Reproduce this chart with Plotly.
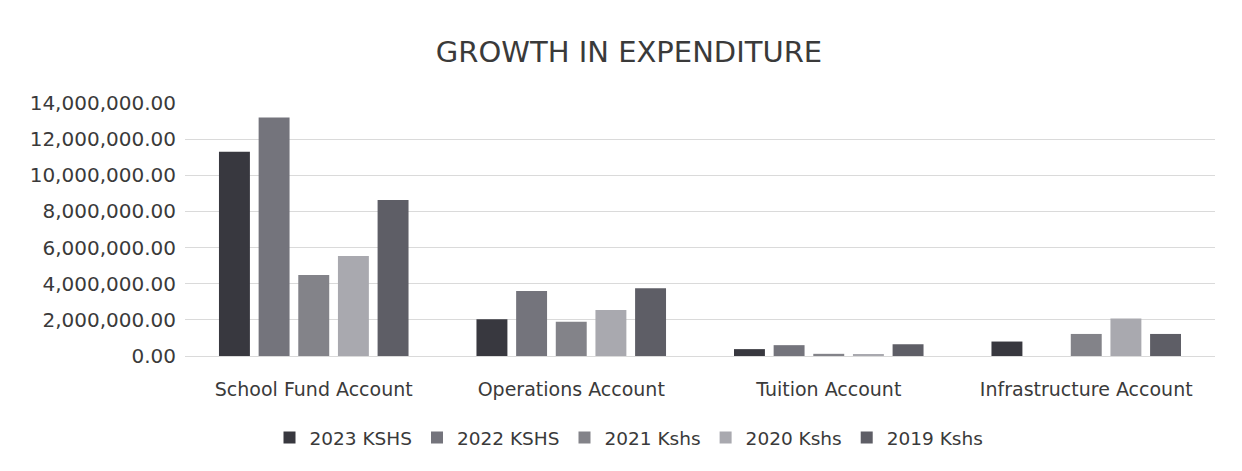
import plotly.graph_objects as go

categories = ["School Fund Account", "Operations Account", "Tuition Account", "Infrastructure Account"]

y2023 = [11300000, 2030000, 380000, 800000]
y2022 = [13200000, 3600000, 600000, 0]
y2021 = [4480000, 1900000, 120000, 1220000]
y2020 = [5530000, 2550000, 100000, 2080000]
y2019 = [8630000, 3750000, 650000, 1220000]

series = [
    ("2023 KSHS", y2023, "#38383f"),
    ("2022 KSHS", y2022, "#74747c"),
    ("2021 Kshs", y2021, "#838389"),
    ("2020 Kshs", y2020, "#a9a9af"),
    ("2019 Kshs", y2019, "#5e5e66"),
]

FONT = "DejaVu Sans"
TEXT = "#3a3a3a"

fig = go.Figure()
for name, vals, color in series:
    fig.add_trace(go.Bar(x=categories, y=vals, name=name, marker_color=color,
                         marker_line_width=0))

fig.update_layout(
    width=1242, height=471,
    barmode="group", bargap=0.23, bargroupgap=0.22,
    plot_bgcolor="white", paper_bgcolor="white",
    margin=dict(l=177, r=35, t=95, b=123),
    font=dict(family=FONT, color=TEXT, size=19),
    title=dict(text="GROWTH IN EXPENDITURE", x=0.5, xanchor="center",
               y=0.907, yanchor="middle",
               font=dict(family=FONT, size=29, color=TEXT)),
    legend=dict(orientation="h", xref="container", yref="container",
                x=0.5, xanchor="center", y=0.087, yanchor="middle",
                font=dict(family=FONT, size=18.5, color=TEXT),
                itemwidth=30, traceorder="normal"),
)
fig.update_yaxes(range=[0, 14000000], dtick=2000000, tickformat=",.2f",
                 showgrid=True, gridcolor="#dadada", gridwidth=1,
                 zeroline=False, showline=False, ticks="", ticklabelstandoff=8,
                 tickfont=dict(family=FONT, size=20, color=TEXT))
fig.update_xaxes(showgrid=False, showline=True, linecolor="#dadada",
                 ticks="", ticklabelstandoff=16,
                 tickfont=dict(family=FONT, size=19, color=TEXT))

fig.write_html("out.html")
